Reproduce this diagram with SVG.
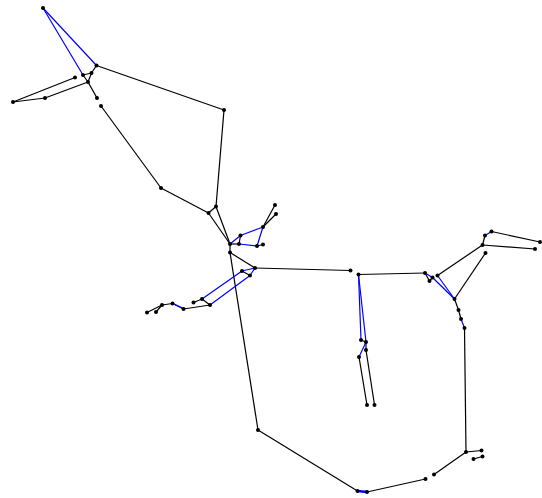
<svg xmlns="http://www.w3.org/2000/svg" width="542" height="498" viewBox="0 0 542 498">
<style>
.k{stroke:#000;stroke-width:1.2;fill:none}
.b{stroke:#0000ff;stroke-width:1.2;fill:none}
.n circle{fill:#000}
</style>
<rect width="542" height="498" fill="#fff"/>
<g id="edges">
<g class="k">
<line x1="96.5" y1="65.5" x2="91.5" y2="73"/>
<line x1="83" y1="75" x2="91.5" y2="73"/>
<line x1="91.5" y1="73" x2="88" y2="82"/>
<line x1="83" y1="75" x2="88" y2="82"/>
<line x1="88" y1="82" x2="97" y2="98"/>
<line x1="45" y1="98" x2="88" y2="82"/>
<line x1="13" y1="102" x2="45" y2="98"/>
<line x1="13" y1="102" x2="75" y2="77.5"/>
<line x1="96.5" y1="65.5" x2="224" y2="110"/>
<line x1="224" y1="110" x2="216" y2="206.5"/>
<line x1="101" y1="106" x2="161" y2="188"/>
<line x1="161" y1="188" x2="208.5" y2="213"/>
<line x1="208.5" y1="213" x2="216" y2="206.5"/>
<line x1="216" y1="206.5" x2="230" y2="244"/>
<line x1="208.5" y1="213" x2="230" y2="244"/>
<line x1="230" y1="244" x2="230" y2="252.5"/>
<line x1="230" y1="252.5" x2="258" y2="430"/>
<line x1="230" y1="252.5" x2="255" y2="268"/>
<line x1="240.5" y1="235.5" x2="239" y2="244"/>
<line x1="239" y1="244" x2="230" y2="244"/>
<line x1="263" y1="227" x2="275" y2="205"/>
<line x1="263" y1="227" x2="276" y2="214"/>
<line x1="257" y1="246" x2="263" y2="244.5"/>
<line x1="255" y1="268" x2="350.5" y2="270.5"/>
<line x1="242" y1="271" x2="250" y2="275.5"/>
<line x1="202" y1="299" x2="193.5" y2="302.5"/>
<line x1="202" y1="299" x2="210" y2="305"/>
<line x1="210" y1="305" x2="183.5" y2="309"/>
<line x1="183.5" y1="309" x2="172.5" y2="303.5"/>
<line x1="172.5" y1="303.5" x2="162" y2="305"/>
<line x1="162" y1="305" x2="147" y2="312.5"/>
<line x1="162" y1="305" x2="156" y2="312"/>
<line x1="258" y1="430" x2="357.5" y2="491"/>
<line x1="358.5" y1="274.5" x2="425" y2="273"/>
<line x1="361" y1="340" x2="366" y2="342"/>
<line x1="366" y1="342" x2="366" y2="350"/>
<line x1="359" y1="357" x2="367" y2="405"/>
<line x1="366" y1="350" x2="374.5" y2="405"/>
<line x1="425" y1="273" x2="429.5" y2="281"/>
<line x1="429.5" y1="281" x2="432.5" y2="277.5"/>
<line x1="482.5" y1="245" x2="437.5" y2="275.5"/>
<line x1="485" y1="235.5" x2="482.5" y2="245"/>
<line x1="491.5" y1="231.5" x2="540" y2="242"/>
<line x1="482.5" y1="245" x2="535" y2="249"/>
<line x1="485.5" y1="253" x2="454.5" y2="299"/>
<line x1="454.5" y1="299" x2="458.5" y2="310"/>
<line x1="458.5" y1="310" x2="461" y2="319"/>
<line x1="464.5" y1="328" x2="466" y2="452"/>
<line x1="466" y1="452" x2="481.5" y2="450.5"/>
<line x1="473.5" y1="459" x2="482.5" y2="456.5"/>
<line x1="466" y1="452" x2="434" y2="474.5"/>
<line x1="425.5" y1="479" x2="367" y2="492"/>
</g>
<g class="b">
<line x1="43" y1="8" x2="96.5" y2="65.5"/>
<line x1="43" y1="8" x2="83" y2="75"/>
<line x1="230" y1="244" x2="240.5" y2="235.5"/>
<line x1="240.5" y1="235.5" x2="263" y2="227"/>
<line x1="263" y1="227" x2="257" y2="246"/>
<line x1="257" y1="246" x2="239" y2="244"/>
<line x1="255" y1="268" x2="242" y2="271"/>
<line x1="255" y1="268" x2="250" y2="275.5"/>
<line x1="242" y1="271" x2="202" y2="299"/>
<line x1="250" y1="275.5" x2="210" y2="305"/>
<line x1="358.5" y1="274.5" x2="361" y2="340"/>
<line x1="358.5" y1="274.5" x2="366" y2="342"/>
<line x1="366" y1="342" x2="359" y2="357"/>
<line x1="425" y1="273" x2="432.5" y2="277.5"/>
<line x1="432.5" y1="277.5" x2="454.5" y2="299"/>
<line x1="437.5" y1="275.5" x2="454.5" y2="299"/>
<line x1="491.5" y1="231.5" x2="485" y2="235.5"/>
<line x1="461" y1="319" x2="464.5" y2="328"/>
<line x1="367" y1="492" x2="357.5" y2="491" stroke-width="2.5"/>
<line x1="173" y1="303.5" x2="183.5" y2="308.5"/>
</g>
</g>
<g class="n">
<g id="n1"><circle cx="43" cy="8" r="2"/></g>
<g id="n2"><circle cx="96.5" cy="65.5" r="2"/></g>
<g id="n3"><circle cx="83" cy="75" r="2"/></g>
<g id="n4"><circle cx="91.5" cy="73" r="2"/></g>
<g id="n5"><circle cx="88" cy="82" r="2"/></g>
<g id="n6"><circle cx="75" cy="77.5" r="2"/></g>
<g id="n7"><circle cx="13" cy="102" r="2"/></g>
<g id="n8"><circle cx="45" cy="98" r="2"/></g>
<g id="n9"><circle cx="97" cy="98" r="2"/></g>
<g id="n10"><circle cx="101" cy="106" r="2"/></g>
<g id="n11"><circle cx="224" cy="110" r="2"/></g>
<g id="n12"><circle cx="161" cy="188" r="2"/></g>
<g id="n13"><circle cx="216" cy="206.5" r="2"/></g>
<g id="n14"><circle cx="208.5" cy="213" r="2"/></g>
<g id="n15"><circle cx="275" cy="205" r="2"/></g>
<g id="n16"><circle cx="276" cy="214" r="2"/></g>
<g id="n17"><circle cx="263" cy="227" r="2"/></g>
<g id="n18"><circle cx="240.5" cy="235.5" r="2"/></g>
<g id="n19"><circle cx="230" cy="244" r="2"/></g>
<g id="n20"><circle cx="239" cy="244" r="2"/></g>
<g id="n21"><circle cx="257" cy="246" r="2"/></g>
<g id="n22"><circle cx="263" cy="244.5" r="2"/></g>
<g id="n23"><circle cx="230" cy="252.5" r="2"/></g>
<g id="n24"><circle cx="255" cy="268" r="2"/></g>
<g id="n25"><circle cx="242" cy="271" r="2"/></g>
<g id="n26"><circle cx="250" cy="275.5" r="2"/></g>
<g id="n27"><circle cx="202" cy="299" r="2"/></g>
<g id="n28"><circle cx="193.5" cy="302.5" r="2"/></g>
<g id="n29"><circle cx="210" cy="305" r="2"/></g>
<g id="n30"><circle cx="183.5" cy="309" r="2"/></g>
<g id="n31"><circle cx="172.5" cy="303.5" r="2"/></g>
<g id="n32"><circle cx="162" cy="305" r="2"/></g>
<g id="n33"><circle cx="156" cy="312" r="2"/></g>
<g id="n34"><circle cx="147" cy="312.5" r="2"/></g>
<g id="n35"><circle cx="258" cy="430" r="2"/></g>
<g id="n36"><circle cx="350.5" cy="270.5" r="2"/></g>
<g id="n37"><circle cx="358.5" cy="274.5" r="2"/></g>
<g id="n38"><circle cx="361" cy="340" r="2"/></g>
<g id="n39"><circle cx="366" cy="342" r="2"/></g>
<g id="n40"><circle cx="359" cy="357" r="2"/></g>
<g id="n41"><circle cx="366" cy="350" r="2"/></g>
<g id="n42"><circle cx="367" cy="405" r="2"/></g>
<g id="n43"><circle cx="374.5" cy="405" r="2"/></g>
<g id="n44"><circle cx="425" cy="273" r="2"/></g>
<g id="n45"><circle cx="429.5" cy="281" r="2"/></g>
<g id="n46"><circle cx="432.5" cy="277.5" r="2"/></g>
<g id="n47"><circle cx="437.5" cy="275.5" r="2"/></g>
<g id="n48"><circle cx="454.5" cy="299" r="2"/></g>
<g id="n49"><circle cx="458.5" cy="310" r="2"/></g>
<g id="n50"><circle cx="461" cy="319" r="2"/></g>
<g id="n51"><circle cx="464.5" cy="328" r="2"/></g>
<g id="n52"><circle cx="491.5" cy="231.5" r="2"/></g>
<g id="n53"><circle cx="485" cy="235.5" r="2"/></g>
<g id="n54"><circle cx="482.5" cy="245" r="2"/></g>
<g id="n55"><circle cx="540" cy="242" r="2"/></g>
<g id="n56"><circle cx="535" cy="249" r="2"/></g>
<g id="n57"><circle cx="485.5" cy="253" r="2"/></g>
<g id="n58"><circle cx="466" cy="452" r="2"/></g>
<g id="n59"><circle cx="481.5" cy="450.5" r="2"/></g>
<g id="n60"><circle cx="473.5" cy="459" r="2"/></g>
<g id="n61"><circle cx="482.5" cy="456.5" r="2"/></g>
<g id="n62"><circle cx="434" cy="474.5" r="2"/></g>
<g id="n63"><circle cx="425.5" cy="479" r="2"/></g>
<g id="n64"><circle cx="367" cy="492" r="2"/></g>
<g id="n65"><circle cx="357.5" cy="491" r="2"/></g>
</g>
</svg>
